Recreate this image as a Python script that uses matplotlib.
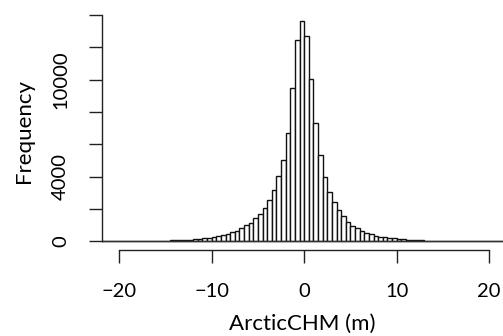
import numpy as np
import matplotlib
matplotlib.use('Agg')
import matplotlib.pyplot as plt

plt.rcParams['font.family'] = ['Lato', 'DejaVu Sans']

# histogram of ArcticCHM, 0.5 m bins from -22 to 22
bin_start = -22.0
bin_width = 0.5
counts = [
    4, 5, 6, 7, 8, 9, 10, 12, 14, 17, 20, 23, 27, 32, 38, 45, 55, 65, 80, 100,
    123, 165, 185, 228, 265, 327, 390, 450, 555, 636, 820, 1006, 1130, 1420, 1710,
    2080, 2530, 3190, 4012, 5000, 6685, 9490, 12450, 13620,
    12700, 10020, 7327, 5309, 3969, 3068, 2407, 1957, 1543, 1216, 969, 802, 636,
    520, 440, 350, 275, 230, 195, 170, 130, 105, 85, 70, 58, 48, 40,
    34, 29, 25, 22, 19, 16, 14, 12, 11, 10, 9, 8, 7, 6, 6, 5, 5,
]
x_ticks = [-20, -10, 0, 10, 20]
y_ticks = [0, 2000, 4000, 6000, 8000, 10000, 12000, 14000]
y_tick_labels = ['0', '', '4000', '', '', '10000', '', '']

lefts = bin_start + bin_width * np.arange(len(counts))

fig = plt.figure(figsize=(5.03, 3.36), dpi=100)
ax = fig.add_axes([0.2022, 1 - 250 / 336, 1 - 0.2022, (250 - 12.3) / 336])

ax.bar(lefts, counts, width=bin_width, align='edge', color='white',
       edgecolor='#111111', linewidth=1.0)
# bar bottoms, visible as a baseline along the tails
ax.hlines(0, lefts[0], lefts[-1] + bin_width, color='#333333', linewidth=1.0)

ymax = max(counts)
ax.set_xlim(-21.9, 21.5)
ax.set_ylim(-0.04 * ymax, 1.04 * ymax)

for s in ['top', 'right']:
    ax.spines[s].set_visible(False)
ax.spines['left'].set_bounds(0, 14000)
ax.spines['bottom'].set_bounds(-20, 20)
for s in ['left', 'bottom']:
    ax.spines[s].set_linewidth(1.0)
    ax.spines[s].set_color('#222222')

ax.set_xticks(x_ticks)
ax.set_xticklabels(['\u2212' + str(-t) if t < 0 else str(t) for t in x_ticks])
ax.set_yticks(y_ticks)
ax.set_yticklabels(y_tick_labels, rotation=90, va='center')
ax.tick_params(axis='both', direction='out', length=9.5, width=1.0,
               color='#222222', labelsize=14.5, pad=14)

ax.set_xlabel('ArcticCHM (m)', fontsize=16, labelpad=10)
ax.set_ylabel('Frequency', fontsize=16, labelpad=13)

fig.savefig('out.png', dpi=100)
